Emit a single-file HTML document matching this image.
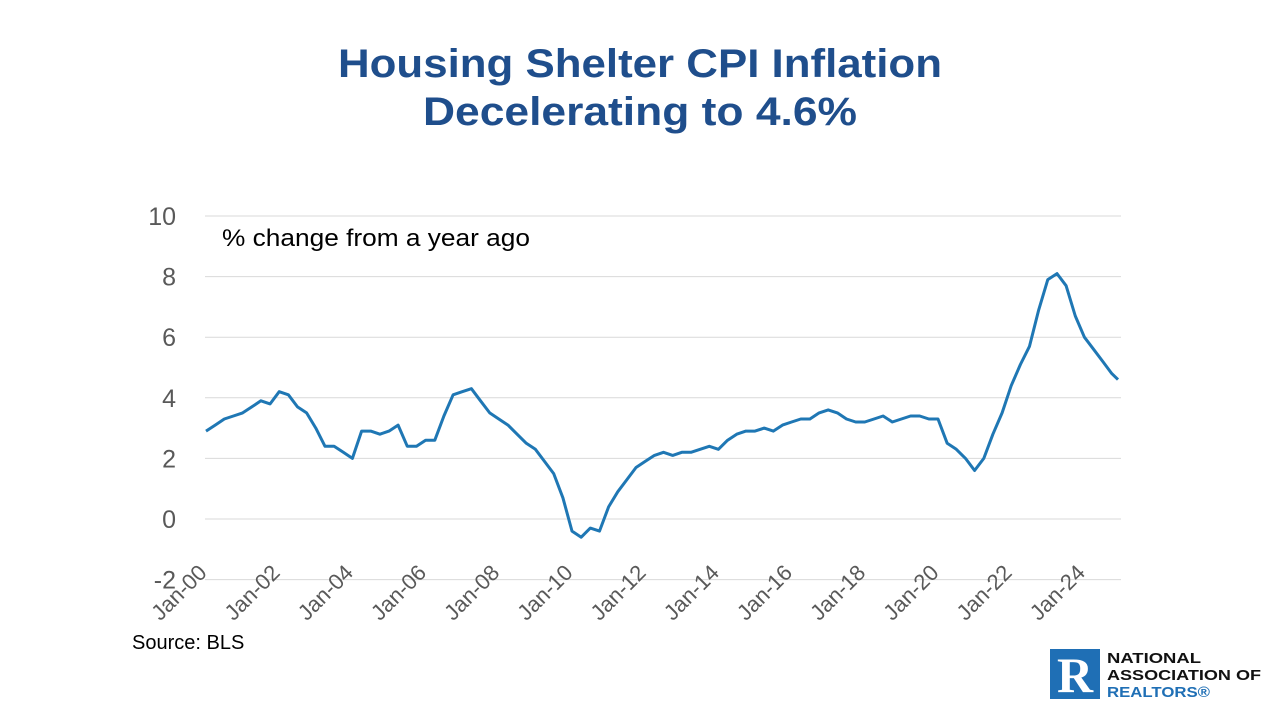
<!DOCTYPE html>
<html><head><meta charset="utf-8"><style>
body{margin:0;background:#fff;}
svg{display:block;font-family:"Liberation Sans",sans-serif;}
</style></head><body>
<svg width="1280" height="720">
<text x="640" y="77" text-anchor="middle" font-size="40" font-weight="bold" fill="#1f4e8c" textLength="604" lengthAdjust="spacingAndGlyphs">Housing Shelter CPI Inflation</text>
<text x="640" y="125" text-anchor="middle" font-size="40" font-weight="bold" fill="#1f4e8c" textLength="434" lengthAdjust="spacingAndGlyphs">Decelerating to 4.6%</text>
<g id="grid"></g>
<g id="yticks"></g>
<g id="xticks"></g>
<text x="222" y="246" font-size="24" fill="#000" textLength="308" lengthAdjust="spacingAndGlyphs">% change from a year ago</text>
<path id="line" fill="none" stroke="#1f77b4" stroke-width="3" stroke-linejoin="round"/>
<text x="132" y="649" font-size="20" fill="#000">Source: BLS</text>
<g>
<rect x="1050" y="649" width="50" height="50" fill="#1f6fb5"/>
<text x="1075" y="692" text-anchor="middle" font-size="50" font-weight="bold" fill="#fff" font-family="Liberation Serif">R</text>
<text x="1107" y="663" font-size="15" font-weight="bold" fill="#111" textLength="94" lengthAdjust="spacingAndGlyphs">NATIONAL</text>
<text x="1107" y="680" font-size="15" font-weight="bold" fill="#111" textLength="154" lengthAdjust="spacingAndGlyphs">ASSOCIATION OF</text>
<text x="1107" y="697" font-size="15" font-weight="bold" fill="#1f6fb5" textLength="103" lengthAdjust="spacingAndGlyphs">REALTORS®</text>
</g>
</svg>
<script>
const yTicks=[10,8,6,4,2,0,-2];
const xLabels=["Jan-00","Jan-02","Jan-04","Jan-06","Jan-08","Jan-10","Jan-12","Jan-14","Jan-16","Jan-18","Jan-20","Jan-22","Jan-24"];
// quarterly values from Jan 2000 (month index = i*3), last point Dec 2024
const values=[2.9,3.1,3.3,3.4, 3.5,3.7,3.9,3.8, 4.2,4.1,3.7,3.5, 3.0,2.4,2.4,2.2, 2.0,2.9,2.9,2.8,
2.9,3.1,2.4,2.4, 2.6,2.6,3.4,4.1, 4.2,4.3,3.9,3.5, 3.3,3.1,2.8,2.5, 2.3,1.9,1.5,0.7,
-0.4,-0.6,-0.3,-0.4, 0.4,0.9,1.3,1.7, 1.9,2.1,2.2,2.1, 2.2,2.2,2.3,2.4, 2.3,2.6,2.8,2.9,
2.9,3.0,2.9,3.1, 3.2,3.3,3.3,3.5, 3.6,3.5,3.3,3.2, 3.2,3.3,3.4,3.2, 3.3,3.4,3.4,3.3,
3.3,2.5,2.3,2.0, 1.6,2.0,2.8,3.5, 4.4,5.1,5.7,6.9, 7.9,8.1,7.7,6.7, 6.0,5.6,5.2,4.8, 4.6];
const months=values.map((v,i)=>i===values.length-1?299:i*3);
const X0=206,PXM=36.6/12;
const xs=m=>X0+m*PXM, ys=v=>519-v*30.3;
const NS="http://www.w3.org/2000/svg";
const g=document.getElementById('grid'),yt=document.getElementById('yticks'),xt=document.getElementById('xticks');
yTicks.forEach(t=>{
 const l=document.createElementNS(NS,'line');
 l.setAttribute('x1',205);l.setAttribute('x2',1121);l.setAttribute('y1',ys(t));l.setAttribute('y2',ys(t));
 l.setAttribute('stroke','#d9d9d9');l.setAttribute('stroke-width','1');
 
 
 g.appendChild(l);
 const tx=document.createElementNS(NS,'text');
 tx.setAttribute('x',176);tx.setAttribute('y',ys(t)+9);tx.setAttribute('text-anchor','end');
 tx.setAttribute('font-size','25');tx.setAttribute('fill','#595959');tx.textContent=t;
 
 
 yt.appendChild(tx);
});
xLabels.forEach((s,i)=>{
 const x=xs(i*24);
 const tx=document.createElementNS(NS,'text');
 tx.setAttribute('x',x+2);tx.setAttribute('y',574);tx.setAttribute('text-anchor','end');
 tx.setAttribute('transform',`rotate(-45 ${x+2} 574)`);
 tx.setAttribute('font-size','22');tx.setAttribute('fill','#595959');tx.textContent=s;
 
 
 xt.appendChild(tx);
});
document.getElementById('line').setAttribute('d',values.map((v,i)=>(i?'L':'M')+xs(months[i]).toFixed(1)+','+ys(v).toFixed(1)).join(''));
</script>
</body></html>
